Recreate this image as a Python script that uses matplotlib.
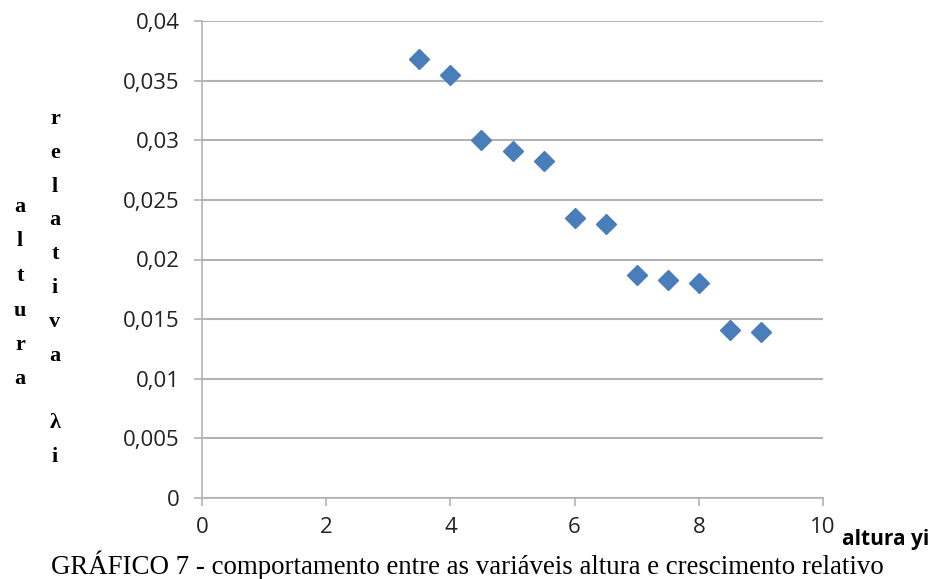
import matplotlib
matplotlib.use("Agg")
import matplotlib.pyplot as plt

# altura yi  vs  altura relativa λi
altura = [3.5, 4.0, 4.5, 5.0, 5.5, 6.0, 6.5, 7.0, 7.5, 8.0, 8.5, 9.0]
relativa = [0.0368, 0.0355, 0.0300, 0.0291, 0.0283, 0.0235, 0.0230,
            0.0187, 0.0183, 0.0180, 0.0141, 0.0139]

x_ticks = [0, 2, 4, 6, 8, 10]
y_ticks = [0, 0.005, 0.01, 0.015, 0.02, 0.025, 0.03, 0.035, 0.04]
y_tick_labels = ["0", "0,005", "0,01", "0,015", "0,02", "0,025", "0,03", "0,035", "0,04"]

caption = "GRÁFICO 7 - comportamento entre as variáveis altura e crescimento relativo"
x_title = "altura yi"
y_title_col1 = "altura"
y_title_col2 = "relativa λi"

W, H = 935, 579
fig = plt.figure(figsize=(W / 100, H / 100), dpi=100)
ax = fig.add_axes([202 / W, 1 - 498 / H, (823 - 202) / W, (498 - 21) / H])

grid_c = "#b3b3b3"
ax.plot(altura, relativa, linestyle="none", marker="D", ms=10.6,
        color="#4a7ebb", markeredgecolor="#4a7ebb", zorder=3)

ax.set_xlim(0, 10)
ax.set_ylim(0, 0.04)
ax.set_xticks(x_ticks)
ax.set_xticklabels([str(v) for v in x_ticks])
ax.set_yticks(y_ticks)
ax.set_yticklabels(y_tick_labels)
ax.grid(axis="y", color=grid_c, linewidth=1.5)
ax.set_axisbelow(True)

for side in ("top", "right"):
    ax.spines[side].set_visible(False)
for side in ("left", "bottom"):
    ax.spines[side].set_color(grid_c)
    ax.spines[side].set_linewidth(1.2)

ax.tick_params(axis="both", direction="out", length=6, width=1.2, color=grid_c,
               labelsize=16, labelcolor="#222222")
ax.tick_params(axis="x", pad=8)
ax.tick_params(axis="y", pad=10)
for lbl in ax.get_xticklabels() + ax.get_yticklabels():
    lbl.set_fontfamily("Open Sans")

# vertical axis title, one letter per line, in two columns
serif = "Liberation Serif"
step = 34.5
for i, ch in enumerate(y_title_col1):
    fig.text(20 / W, 1 - (207 + i * step) / H, ch, ha="center", va="center",
             fontsize=16, fontweight="bold", family=serif)
col2 = list("relativa") + [" "] + list("λi")
for i, ch in enumerate(col2):
    fig.text(55 / W, 1 - (119 + i * step * 0.98) / H, ch, ha="center", va="center",
             fontsize=16, fontweight="bold", family=serif)

fig.text(886 / W, 1 - 540 / H, x_title, ha="center", va="center",
         fontsize=15, fontweight="bold", family="Open Sans")

fig.text(467 / W, 1 - 565 / H, caption, ha="center", va="center",
         fontsize=19.4, family=serif)

fig.savefig("out.png", dpi=100)
